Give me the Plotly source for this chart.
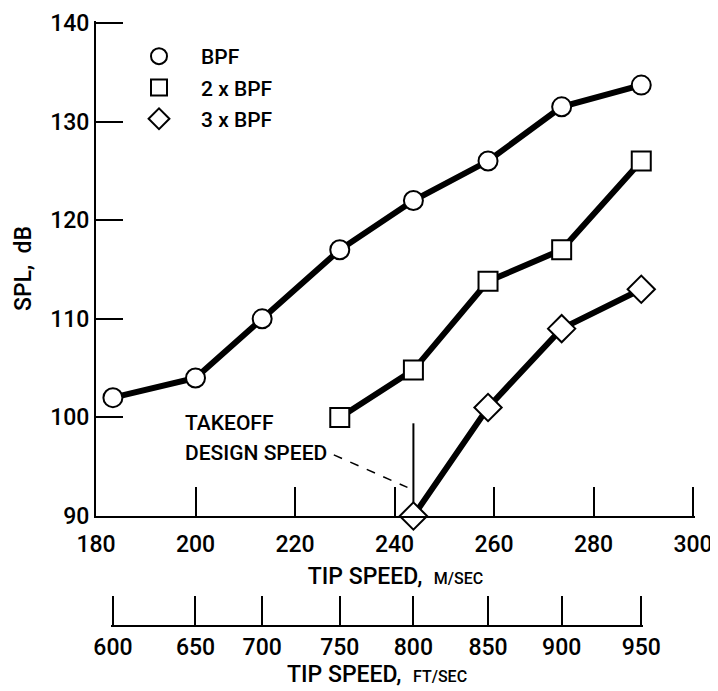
import plotly.graph_objects as go

# ---- data ----
tip_speed_ms = [183.4, 200.0, 213.4, 229.0, 243.8, 258.8, 273.6, 289.6]
tip_speed_ft_labels = ["600", "650", "700", "750", "800", "850", "900", "950"]
spl_bpf = [102.0, 104.0, 110.0, 117.0, 122.0, 126.0, 131.5, 133.7]
spl_2bpf = [100.0, 104.8, 113.8, 117.0, 126.0]
spl_3bpf = [90.0, 101.0, 109.0, 113.0]
x_ticks_ms = [180, 200, 220, 240, 260, 280, 300]
y_ticks = [90, 100, 110, 120, 130, 140]
series_names = ["BPF", "2 x BPF", "3 x BPF"]
design_speed_ms = 243.8

# the page body has an 8px margin; size the figure so it fits the 718x691 window
OFF = 8
W, H = 718 - OFF, 691 - OFF
FONT = "Roboto, Liberation Sans, sans-serif"
WEIGHT = 500

def fx(px):   # window pixel -> paper x
    return (px - OFF) / W

def fy(py):   # window pixel -> paper y
    return 1 - (py - OFF) / H

# plot area in window pixels
px0, px1 = 96, 693
py_top, py_bot = 23, 516
xr = [180, 300]
yr = [90, 140]
EXT = 2.0  # px of extra range so that end ticks are kept

def xpx(v):
    return px0 + (v - xr[0]) / (xr[1] - xr[0]) * (px1 - px0)

xs = (xr[1] - xr[0]) / (px1 - px0)   # data units per px
ys = (yr[1] - yr[0]) / (py_bot - py_top)

fig = go.Figure()

marker_common = dict(size=19, color="white", line=dict(color="black", width=2))
line_common = dict(color="black", width=6)

fig.add_trace(go.Scatter(x=tip_speed_ms, y=spl_bpf, mode="lines+markers",
                         line=line_common, marker=dict(symbol="circle", **marker_common),
                         showlegend=False, cliponaxis=False))
fig.add_trace(go.Scatter(x=tip_speed_ms[3:], y=spl_2bpf, mode="lines+markers",
                         line=line_common, marker=dict(symbol="square", **marker_common),
                         showlegend=False, cliponaxis=False))
fig.add_trace(go.Scatter(x=tip_speed_ms[4:], y=spl_3bpf, mode="lines+markers",
                         line=line_common, marker=dict(symbol="diamond", size=21, color="white",
                                                       line=dict(color="black", width=2)),
                         showlegend=False, cliponaxis=False))

# legend-only marker entries
for name, sym, grp in zip(series_names, ["circle", "square", "diamond"], ["a", "b", "c"]):
    fig.add_trace(go.Scatter(x=[None], y=[None], mode="markers", name=name, legendgroup=grp,
                             marker=dict(symbol=sym, size=16, color="white",
                                         line=dict(color="black", width=2))))

# invisible trace to carry the ft/sec axis
fig.add_trace(go.Scatter(x=tip_speed_ms, y=[None] * len(tip_speed_ms), xaxis="x2", yaxis="y",
                         mode="markers", showlegend=False, hoverinfo="skip"))

axis_font = dict(family=FONT, size=23, color="black", weight=WEIGHT)
small = "font-size:16px"

fig.update_layout(
    width=W, height=H,
    margin=dict(l=0, r=0, t=0, b=0, autoexpand=False),
    paper_bgcolor="white",
    plot_bgcolor="rgba(0,0,0,0)",
    font=dict(family=FONT, size=22, color="black", weight=WEIGHT),
    showlegend=True,
    legend=dict(x=fx(117), y=fy(36), xanchor="left", yanchor="top",
                font=dict(family=FONT, size=21, color="black", weight=WEIGHT),
                bgcolor="rgba(0,0,0,0)", tracegroupgap=1, itemsizing="trace", itemwidth=74),
    xaxis=dict(
        domain=[fx(px0), fx(px1 + EXT)], range=[xr[0], xr[1] + EXT * xs],
        tickvals=x_ticks_ms, ticktext=[str(v) for v in x_ticks_ms],
        ticks="inside", ticklen=29, tickwidth=2, tickcolor="black",
        showline=True, linecolor="black", linewidth=2, mirror=False, automargin=False,
        showgrid=False, zeroline=False, tickfont=axis_font, ticklabelstandoff=6,
        title=dict(text=f"TIP SPEED,&nbsp;&nbsp;<span style='{small}'>M/SEC</span>",
                   font=axis_font, standoff=11),
    ),
    yaxis=dict(
        domain=[fy(py_bot), fy(py_top - EXT)], range=[yr[0], yr[1] + EXT * ys],
        tickvals=y_ticks,
        ticks="inside", ticklen=27, tickwidth=2, tickcolor="black",
        showline=True, linecolor="black", linewidth=2, automargin=False,
        showgrid=False, zeroline=False, tickfont=axis_font,
        title=dict(text="SPL,&nbsp;&nbsp;dB", font=axis_font, standoff=12),
    ),
    xaxis2=dict(
        anchor="free", position=fy(626),
        domain=[fx(xpx(tip_speed_ms[0]) - EXT), fx(xpx(tip_speed_ms[-1]) + EXT)],
        range=[tip_speed_ms[0] - EXT * xs, tip_speed_ms[-1] + EXT * xs],
        tickvals=tip_speed_ms, ticktext=tip_speed_ft_labels,
        ticks="inside", ticklen=29, tickwidth=2, tickcolor="black",
        showline=True, linecolor="black", linewidth=2, automargin=False,
        showgrid=False, zeroline=False, tickfont=axis_font,
        title=dict(text=f"TIP SPEED,&nbsp;&nbsp;<span style='{small}'>FT/SEC</span>",
                   font=axis_font, standoff=1),
    ),
)

# takeoff design speed annotation
ann_font = dict(family=FONT, size=21, color="black", weight=WEIGHT)
fig.add_annotation(x=197.4, y=99.4, xref="x", yref="y", text="TAKEOFF", showarrow=False,
                   xanchor="left", yanchor="middle", font=ann_font)
fig.add_annotation(x=197.4, y=96.35, xref="x", yref="y", text="DESIGN SPEED", showarrow=False,
                   xanchor="left", yanchor="middle", font=ann_font)
fig.add_shape(type="line", x0=227.8, y0=96.2, x1=242.6, y1=92.9, xref="x", yref="y",
              line=dict(color="black", width=1.5, dash="dash"))
fig.add_shape(type="line", x0=design_speed_ms, y0=99.4, x1=design_speed_ms, y1=91.4,
              xref="x", yref="y", line=dict(color="black", width=2))

fig.write_html("out.html")
